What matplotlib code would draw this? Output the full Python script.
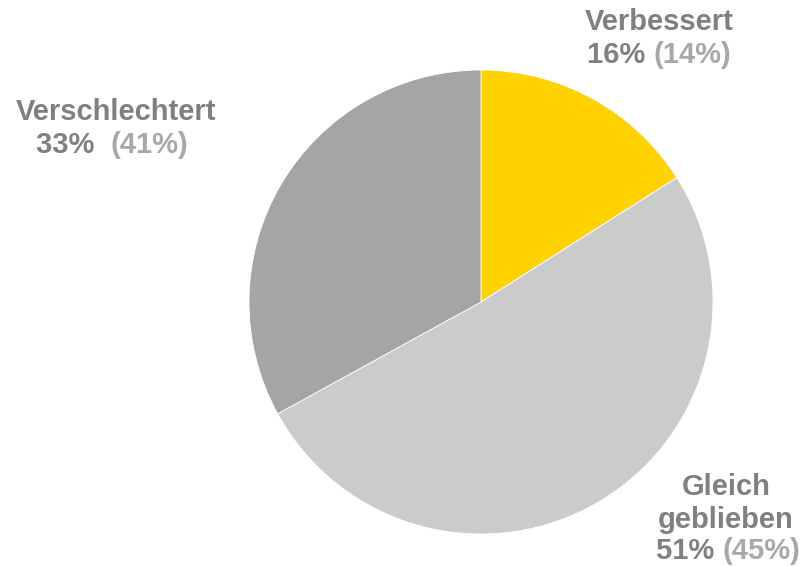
import matplotlib
matplotlib.use("Agg")
import matplotlib.pyplot as plt

categories = ["Verbessert", "Gleich geblieben", "Verschlechtert"]
values = [16, 51, 33]
prev_values = [14, 45, 41]
colors = ["#FFD200", "#CBCBCB", "#A5A5A5"]

W, H = 802, 566
fig = plt.figure(figsize=(W / 100, H / 100), dpi=100)
cx, cy, r = 481, 302, 232
ax = fig.add_axes([(cx - r) / W, (H - cy - r) / H, 2 * r / W, 2 * r / H])
ax.pie(values, colors=colors, startangle=90, counterclock=False, radius=1,
       wedgeprops=dict(edgecolor="white", linewidth=0.6))
ax.set_xlim(-1, 1)
ax.set_ylim(-1, 1)
ax.set_aspect("equal")
ax.axis("off")

font = dict(family=["Liberation Sans", "DejaVu Sans"], fontsize=21, fontweight="bold")
main_c = "#808080"
sub_c = "#A8A8A8"

fig.canvas.draw()
renderer = fig.canvas.get_renderer()


def line(xc, yc, parts):
    # parts: list of (text, color); center whole line at pixel (xc, yc from top)
    texts = []
    widths = []
    for s, c in parts:
        t = fig.text(0, 0, s, color=c, va="center", ha="left", **font)
        bb = t.get_window_extent(renderer)
        texts.append(t)
        widths.append(bb.width)
    total = sum(widths)
    x = xc - total / 2
    for t, w in zip(texts, widths):
        t.set_position((x / W, (H - yc) / H))
        x += w


line(659, 22, [("Verbessert", main_c)])
line(659, 55, [(f"{values[0]}% ", main_c), (f"({prev_values[0]}%)", sub_c)])
line(116, 112, [("Verschlechtert", main_c)])
line(112, 145, [(f"{values[2]}%  ", main_c), (f"({prev_values[2]}%)", sub_c)])
line(726, 487, [("Gleich", main_c)])
line(726, 520, [("geblieben", main_c)])
line(728, 551, [(f"{values[1]}% ", main_c), (f"({prev_values[1]}%)", sub_c)])

fig.savefig("out.png", dpi=100)
